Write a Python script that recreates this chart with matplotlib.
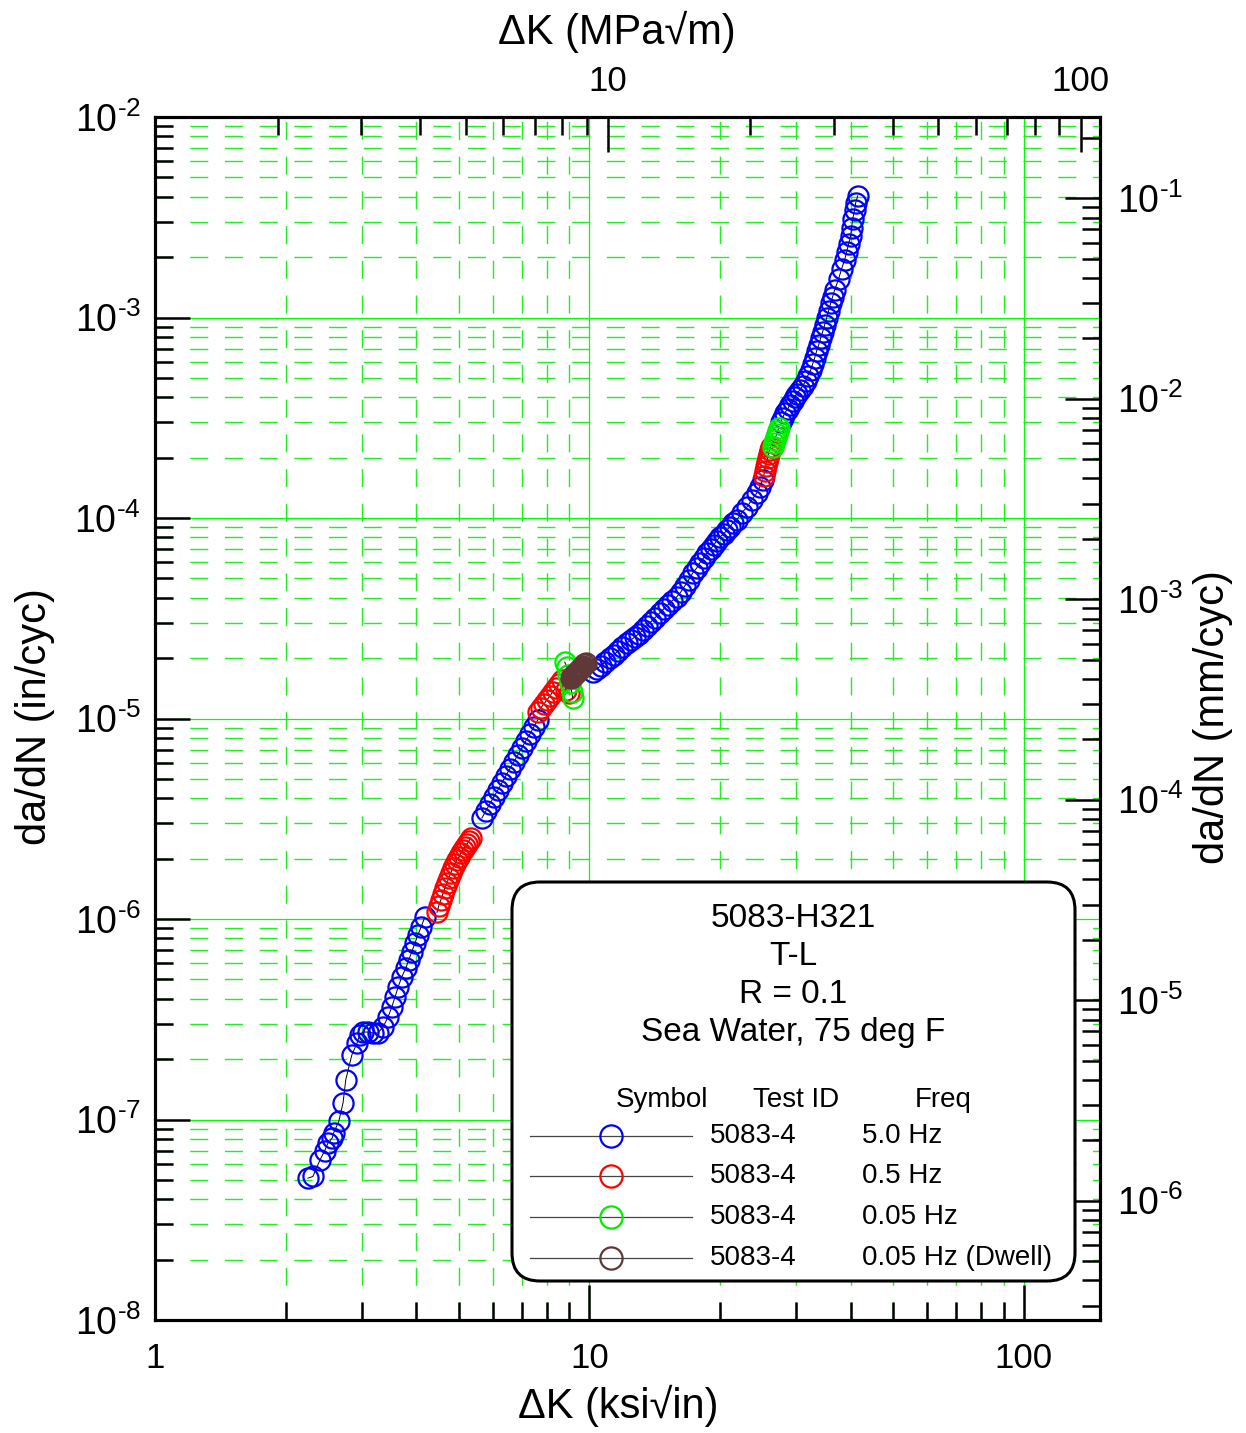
import numpy as np
import matplotlib
matplotlib.use('Agg')
import matplotlib.pyplot as plt
from matplotlib.ticker import FixedLocator, FuncFormatter, NullFormatter
from matplotlib.patches import FancyBboxPatch

plt.rcParams['font.family'] = ['Liberation Sans', 'DejaVu Sans']
plt.rcParams['mathtext.fontset'] = 'custom'
plt.rcParams['mathtext.rm'] = 'Liberation Sans'
plt.rcParams['mathtext.it'] = 'Liberation Sans:italic'
plt.rcParams['mathtext.bf'] = 'Liberation Sans:bold'

# da/dN vs delta K (ksi*sqrt(in), in/cycle)
blue1_k = [2.25, 2.31, 2.40, 2.46, 2.50, 2.56, 2.58, 2.65, 2.71, 2.75, 2.84, 2.92, 2.96, 3.01, 3.09,
           3.18, 3.26, 3.35, 3.44, 3.51, 3.57, 3.63, 3.70, 3.78, 3.84, 3.90, 3.97, 4.03, 4.10, 4.18]
blue1_dadn = [5.1e-8, 5.2e-8, 6.3e-8, 7.0e-8, 7.6e-8, 8.1e-8, 8.6e-8, 9.8e-8, 1.21e-7, 1.58e-7, 2.10e-7,
              2.41e-7, 2.64e-7, 2.73e-7, 2.73e-7, 2.70e-7, 2.70e-7, 2.89e-7, 3.24e-7, 3.64e-7, 4.08e-7,
              4.58e-7, 5.14e-7, 5.69e-7, 6.24e-7, 6.84e-7, 7.59e-7, 8.32e-7, 9.12e-7, 1.02e-6]

red1_k = [4.46, 4.50, 4.55, 4.60, 4.65, 4.70, 4.75, 4.80, 4.85, 4.90, 4.95, 5.01, 5.06, 5.12, 5.17,
          5.23, 5.28, 5.34]
red1_dadn = [1.08e-6, 1.16e-6, 1.24e-6, 1.33e-6, 1.43e-6, 1.51e-6, 1.60e-6, 1.70e-6, 1.80e-6, 1.88e-6,
             1.97e-6, 2.04e-6, 2.13e-6, 2.21e-6, 2.29e-6, 2.37e-6, 2.45e-6, 2.54e-6]

blue2_k = [5.66, 5.78, 5.90, 6.03, 6.16, 6.29, 6.42, 6.56, 6.70, 6.85, 6.99, 7.14, 7.30, 7.45, 7.61]
blue2_dadn = [3.19e-6, 3.46e-6, 3.75e-6, 4.06e-6, 4.40e-6, 4.77e-6, 5.17e-6, 5.60e-6, 6.07e-6, 6.58e-6,
              7.13e-6, 7.72e-6, 8.37e-6, 9.07e-6, 9.83e-6]

red2_k = [7.61, 7.73, 7.86, 7.99, 8.11, 8.24, 8.37, 8.51, 8.65, 8.83, 8.97]
red2_dadn = [1.08e-5, 1.13e-5, 1.18e-5, 1.24e-5, 1.29e-5, 1.36e-5, 1.42e-5, 1.49e-5, 1.56e-5, 1.39e-5, 1.34e-5]

green1_k = [8.78, 8.88, 8.92, 9.02, 9.11, 9.16]
green1_dadn = [1.91e-5, 1.81e-5, 1.65e-5, 1.50e-5, 1.36e-5, 1.27e-5]

brown_k = [9.07, 9.12, 9.17, 9.21, 9.26, 9.31, 9.36, 9.41, 9.46, 9.51, 9.56, 9.61, 9.66, 9.74, 9.82]
brown_dadn = [1.59e-5, 1.61e-5, 1.63e-5, 1.65e-5, 1.67e-5, 1.69e-5, 1.71e-5, 1.73e-5, 1.75e-5, 1.77e-5,
              1.79e-5, 1.81e-5, 1.83e-5, 1.86e-5, 1.89e-5]

blue3_k = [10.19, 10.41, 10.63, 10.86, 11.15, 11.39, 11.63, 11.88, 12.20, 12.46, 12.73, 13.00, 13.28,
           13.56, 13.85, 14.15, 14.53, 14.84, 15.16, 15.48, 15.90, 16.24, 16.59, 16.94, 17.31, 17.68,
           17.96, 18.34, 18.64, 19.04, 19.34, 19.65, 19.97, 20.40, 20.73, 21.06, 21.40, 21.85, 22.44,
           23.04, 23.66, 24.30, 24.69, 25.08]
blue3_dadn = [1.71e-5, 1.77e-5, 1.83e-5, 1.91e-5, 2.00e-5, 2.07e-5, 2.17e-5, 2.27e-5, 2.38e-5, 2.46e-5,
              2.55e-5, 2.64e-5, 2.76e-5, 2.89e-5, 3.03e-5, 3.17e-5, 3.36e-5, 3.52e-5, 3.68e-5, 3.85e-5,
              4.04e-5, 4.27e-5, 4.58e-5, 4.91e-5, 5.32e-5, 5.63e-5, 5.97e-5, 6.32e-5, 6.69e-5, 7.01e-5,
              7.33e-5, 7.68e-5, 8.04e-5, 8.32e-5, 8.71e-5, 9.02e-5, 9.44e-5, 9.77e-5, 1.06e-4, 1.13e-4,
              1.23e-4, 1.33e-4, 1.43e-4, 1.55e-4]

red3_k = [25.21, 25.35, 25.48, 25.62, 25.75, 25.89, 26.03, 26.17]
red3_dadn = [1.62e-4, 1.72e-4, 1.82e-4, 1.90e-4, 1.99e-4, 2.09e-4, 2.18e-4, 2.26e-4]

green2_k = [26.44, 26.58, 26.73, 26.87, 27.01, 27.16, 27.30]
green2_dadn = [2.26e-4, 2.37e-4, 2.45e-4, 2.54e-4, 2.62e-4, 2.72e-4, 2.81e-4]

blue4_k = [27.59, 27.88, 28.18, 28.63, 28.94, 29.40, 29.72, 30.03, 30.52, 31.00, 31.50, 31.83, 32.35,
           32.69, 33.04, 33.39, 33.75, 34.11, 34.47, 34.83, 35.21, 35.58, 35.97, 36.34, 36.73, 37.52,
           38.12, 38.73, 39.14, 39.56, 39.98, 40.19, 40.41, 40.84, 41.06, 41.50]
blue4_dadn = [3.01e-4, 3.15e-4, 3.34e-4, 3.50e-4, 3.66e-4, 3.83e-4, 4.01e-4, 4.15e-4, 4.35e-4, 4.55e-4,
              4.82e-4, 5.11e-4, 5.47e-4, 5.86e-4, 6.28e-4, 6.81e-4, 7.29e-4, 7.91e-4, 8.47e-4, 9.17e-4,
              9.94e-4, 1.08e-3, 1.18e-3, 1.27e-3, 1.37e-3, 1.56e-3, 1.75e-3, 1.94e-3, 2.12e-3, 2.33e-3,
              2.55e-3, 2.80e-3, 3.10e-3, 3.44e-3, 3.72e-3, 4.04e-3]

# legend content
title_lines = ['5083-H321', 'T-L', 'R = 0.1', 'Sea Water, 75 deg F']
test_ids = ['5083-4', '5083-4', '5083-4', '5083-4']
freqs = ['5.0 Hz', '0.5 Hz', '0.05 Hz', '0.05 Hz (Dwell)']
series_colors = ['#0000ff', '#ff0000', '#00ee00', '#603838']


def log_ticks(lo, hi):
    # major (decades) and minor (2..9) positions inside [lo, hi]
    e0, e1 = int(np.floor(np.log10(lo))), int(np.ceil(np.log10(hi)))
    major = [10.0 ** e for e in range(e0, e1 + 1) if lo * 0.999 <= 10.0 ** e <= hi * 1.001]
    minor = [m * 10.0 ** e for e in range(e0, e1 + 1) for m in range(2, 10)
             if lo <= m * 10.0 ** e <= hi]
    return major, minor


def sci_label(v, pos):
    return r'$10^{\text{-}%d}$' % int(round(-np.log10(v)))


W, H = 1246, 1433
fig = plt.figure(figsize=(W / 100, H / 100), dpi=100)
ax = fig.add_axes([155 / W, 1 - 1320 / H, 945 / W, 1203 / H])
ax.set_xscale('log')
ax.set_yscale('log')
ax.set_xlim(1, 150)
ax.set_ylim(1e-8, 1e-2)
ax.set_axisbelow(True)

segments = [
    (blue1_k, blue1_dadn, series_colors[0]),
    (blue2_k, blue2_dadn, series_colors[0]),
    (blue3_k, blue3_dadn, series_colors[0]),
    (blue4_k, blue4_dadn, series_colors[0]),
    (red1_k, red1_dadn, series_colors[1]),
    (red2_k, red2_dadn, series_colors[1]),
    (red3_k, red3_dadn, series_colors[1]),
    (green1_k, green1_dadn, series_colors[2]),
    (green2_k, green2_dadn, series_colors[2]),
    (brown_k, brown_dadn, series_colors[3]),
]
for k, d, c in segments:
    ax.plot(k, d, '-', color='k', lw=0.7, marker='o', ms=14.5, mfc='none', mec=c, mew=1.6, zorder=3)

tick_kw = dict(direction='in', width=1.8)

# bottom axis / left axis
xmaj, xmin = log_ticks(1, 150)
ymaj, ymin = log_ticks(1e-8, 1e-2)
ax.xaxis.set_major_locator(FixedLocator(xmaj))
ax.xaxis.set_minor_locator(FixedLocator(xmin))
ax.yaxis.set_major_locator(FixedLocator(ymaj))
ax.yaxis.set_minor_locator(FixedLocator(ymin))
ax.xaxis.set_major_formatter(FuncFormatter(lambda v, p: f'{v:g}'))
ax.yaxis.set_major_formatter(FuncFormatter(sci_label))
ax.xaxis.set_minor_formatter(NullFormatter())
ax.yaxis.set_minor_formatter(NullFormatter())
ax.tick_params(which='major', length=25, **tick_kw)
ax.tick_params(which='minor', length=13, **tick_kw)
ax.tick_params(axis='x', which='both', pad=16, labelsize=25)
ax.tick_params(axis='y', which='both', pad=10, labelsize=27)

# grid
ax.grid(which='major', color='#00ff00', lw=0.9, ls='-')
ax.grid(which='minor', color='#22ee22', lw=1.0, ls=(0, (13, 12)))

# top axis (MPa sqrt m)
axt = ax.twiny()
axt.set_xscale('log')
axt.set_xlim(1.0988, 109.88)
tmaj, tmin = log_ticks(1.0988, 109.88)
axt.xaxis.set_major_locator(FixedLocator(tmaj))
axt.xaxis.set_minor_locator(FixedLocator(tmin))
axt.xaxis.set_major_formatter(FuncFormatter(lambda v, p: f'{v:g}'))
axt.xaxis.set_minor_formatter(NullFormatter())
axt.tick_params(which='major', length=25, labelsize=25, pad=14, **tick_kw)
axt.tick_params(which='minor', length=13, **tick_kw)

# right axis (mm/cycle)
axr = ax.twinx()
axr.set_yscale('log')
axr.set_ylim(1e-8 * 25.4, 1e-2 * 25.4)
rmaj, rmin = log_ticks(1e-8 * 25.4, 1e-2 * 25.4)
axr.yaxis.set_major_locator(FixedLocator(rmaj))
axr.yaxis.set_minor_locator(FixedLocator(rmin))
axr.yaxis.set_major_formatter(FuncFormatter(sci_label))
axr.yaxis.set_minor_formatter(NullFormatter())
axr.tick_params(which='major', length=25, labelsize=27, pad=12, **tick_kw)
axr.tick_params(which='minor', length=13, **tick_kw)

for a in (ax, axt, axr):
    for s in a.spines.values():
        s.set_linewidth(2.2)

# overlay in pixel units for labels and the legend box
ov = fig.add_axes([0, 0, 1, 1], zorder=5)
ov.set_xlim(0, W)
ov.set_ylim(H, 0)
ov.axis('off')

ov.text(618, 1406, 'ΔK (ksi√in)', fontsize=30, ha='center', va='center')
ov.text(617, 32, 'ΔK (MPa√m)', fontsize=30, ha='center', va='center')
ov.text(35, 717, 'da/dN (in/cyc)', fontsize=30, ha='center', va='center', rotation=90)
ov.text(1213, 717, 'da/dN (mm/cyc)', fontsize=30, ha='center', va='center', rotation=90)

box = FancyBboxPatch((512, 882), 563, 399, boxstyle='round,pad=0,rounding_size=28',
                     fc='white', ec='black', lw=2.2)
ov.add_patch(box)
for i, t in enumerate(title_lines):
    ov.text(793, 918 + 38 * i, t, fontsize=24, ha='center', va='center')
ov.text(662, 1100, 'Symbol', fontsize=20, ha='center', va='center')
ov.text(796, 1100, 'Test ID', fontsize=20, ha='center', va='center')
ov.text(943, 1100, 'Freq', fontsize=20, ha='center', va='center')
row_y = [1136, 1176, 1217, 1258]
for y, tid, fq, c in zip(row_y, test_ids, freqs, series_colors):
    ov.plot([530, 692], [y, y], color='#444444', lw=0.9)
    ov.plot([611], [y], marker='o', ms=16, mfc='none', mec=c, mew=1.6)
    ov.text(710, y, tid, fontsize=20, ha='left', va='center')
    ov.text(862, y, fq, fontsize=20, ha='left', va='center')

fig.savefig('out.png', dpi=100)
